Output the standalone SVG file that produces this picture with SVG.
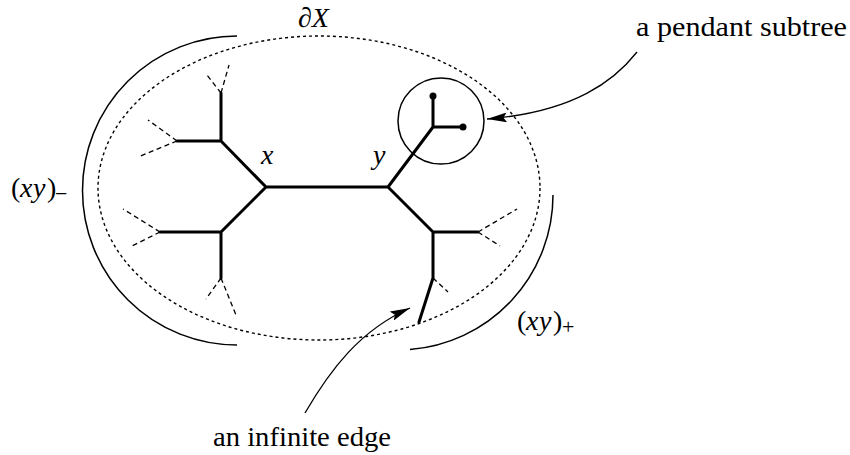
<svg xmlns="http://www.w3.org/2000/svg" width="850" height="455" viewBox="0 0 850 455">
<style>
  .t { font-family: "Liberation Serif", "DejaVu Serif", "Times New Roman", serif; fill: #000; }
  .m { font-style: italic; }
  .tree { stroke: #000; stroke-width: 3; fill: none; stroke-linecap: round; stroke-linejoin: round; }
  .dash { stroke: #000; stroke-width: 1.3; fill: none; stroke-dasharray: 5 3.5; }
  .dot { stroke: #000; stroke-width: 1.4; fill: none; stroke-dasharray: 3 3; }
  .thin { stroke: #000; stroke-width: 1.5; fill: none; }
  .arr { stroke: #000; stroke-width: 1.3; fill: none; }
</style>
<defs>
  <marker id="ah" viewBox="0 0 20 10" refX="20" refY="5" markerWidth="20" markerHeight="10" orient="auto" markerUnits="userSpaceOnUse">
    <path d="M0,0 L20,5 L0,10 L3.5,5 Z" fill="#000"/>
  </marker>
</defs>

<g id="boundary">
  <ellipse class="dot" cx="319" cy="188" rx="221" ry="152"/>
  <path id="arc-minus" class="thin" d="M237,36 A154,154 0 1 0 237,345"/>
  <path id="arc-plus" class="thin" d="M553,195 A155,155 0 0 1 410,349.5"/>
</g>

<g id="connectors">
  <path class="tree" d="M266,187 H388 M266,187 L221,141 M266,187 L221,232 M221,141 H177 M221,141 V93 M221,232 H160 M221,232 V278 M388,187 L433,232 M433,232 H478 M433,232 V278 M433,278 L419,322 M388,187 L433,127 M433,127 V96 M433,127 H463"/>
  <path class="dash" d="M221,93 L207,75 M221,93 L229,65 M177,141 L148,120 M177,141 L138,157 M160,232 L123,209 M160,232 L130,247 M221,278 L206,299 M221,278 L236,315 M478,232 L517,209 M478,232 L500,246 M433,278 L448,292"/>
  <path class="arr" d="M637,52 C615,80 575,112 487,119" marker-end="url(#ah)"/>
  <path class="arr" d="M305,413 C330,370 360,330 410,308" marker-end="url(#ah)"/>
</g>

<g id="pendant">
  <circle class="thin" cx="441" cy="121" r="43"/>
  <circle cx="433" cy="96" r="3.5" fill="#000"/>
  <circle cx="463" cy="127" r="3.5" fill="#000"/>
</g>

<g id="labels">
  <text id="dX" class="t" x="298" y="27" font-size="28">∂<tspan class="m">X</tspan></text>
  <text id="lx" class="t m" x="261" y="164" font-size="28">x</text>
  <text id="ly" class="t m" x="373" y="164" font-size="28">y</text>
  <text id="xym" class="t" font-size="28" y="197"><tspan x="11">(</tspan><tspan class="m" x="20">x</tspan><tspan class="m" x="33">y</tspan><tspan x="47">)</tspan><tspan x="55" dy="4" font-size="22">−</tspan></text>
  <text id="xyp" class="t" font-size="28" y="330"><tspan x="517">(</tspan><tspan class="m" x="526">x</tspan><tspan class="m" x="539">y</tspan><tspan x="553">)</tspan><tspan x="562" dy="4" font-size="22">+</tspan></text>
  <text id="pendant-label" class="t" x="636" y="36" font-size="28" textLength="211" lengthAdjust="spacingAndGlyphs">a pendant subtree</text>
  <text id="edge-label" class="t" x="213" y="446" font-size="28" textLength="178" lengthAdjust="spacingAndGlyphs">an infinite edge</text>
</g>
</svg>
